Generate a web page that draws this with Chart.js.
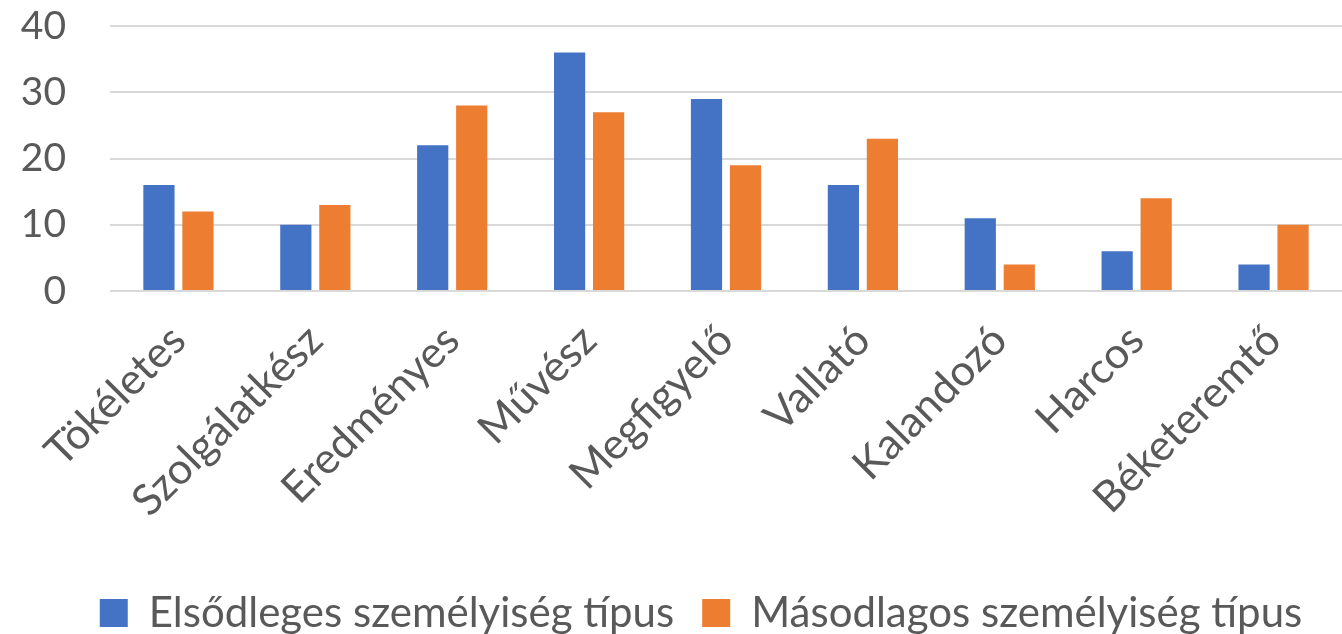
<!DOCTYPE html>
<html>
<head>
<meta charset="utf-8">
<script src="https://cdn.jsdelivr.net/npm/chart.js@4/dist/chart.umd.min.js"></script>
<style>
  html, body { margin: 0; padding: 0; background: #ffffff; }
  #wrap { width: 1342px; height: 634px; }
</style>
</head>
<body>
<div id="wrap"><canvas id="grafico"></canvas></div>
<script>
var kategoriak = ['Tökéletes', 'Szolgálatkész', 'Eredményes', 'Művész', 'Megfigyelő',
                  'Vallató', 'Kalandozó', 'Harcos', 'Béketeremtő'];
var elsodleges = [16, 10, 22, 36, 29, 16, 11, 6, 4];
var masodlagos = [12, 13, 28, 27, 19, 23, 4, 14, 10];
var sorozatNevek = ['Elsődleges személyiség típus', 'Másodlagos személyiség típus'];
var yTickek = [0, 10, 20, 30, 40];

var szurke = '#595959';
var racs = '#d9d9d9';

// a jelmagyarázat kicsit jobbra ül az eredetin
var jelmagyEltolas = {
    id: 'jelmagyEltolas',
    afterLayout: function (chart) {
        if (!chart.legend) return;
        chart.legend.left += 30;
        chart.legend.right += 30;
    }
};

new Chart(document.getElementById('grafico'), {
    type: 'bar',
    data: {
        labels: kategoriak,
        datasets: [
            {
                label: sorozatNevek[0],
                data: elsodleges,
                backgroundColor: '#4472c4',
                barPercentage: 0.8,
                categoryPercentage: 0.57
            },
            {
                label: sorozatNevek[1],
                data: masodlagos,
                backgroundColor: '#ed7d31',
                barPercentage: 0.8,
                categoryPercentage: 0.57
            }
        ]
    },
    plugins: [jelmagyEltolas],
    options: {
        responsive: true,
        maintainAspectRatio: false,
        animation: false,
        layout: { padding: { top: 26, right: 0, left: 0, bottom: -10 } },
        plugins: {
            tooltip: { enabled: false },
            legend: {
                display: true,
                position: 'bottom',
                labels: {
                    color: szurke,
                    font: { family: 'Lato', size: 42 },
                    boxWidth: 28,
                    boxHeight: 28,
                    padding: 28
                }
            }
        },
        scales: {
            x: {
                grid: { display: false },
                border: { display: false },
                afterFit: function (ax) {
                    ax.height = 273;
                    ax.paddingLeft = 0;
                    ax.paddingRight = 0;
                },
                ticks: {
                    color: szurke,
                    font: { family: 'Lato', size: 43 },
                    minRotation: 45,
                    maxRotation: 45,
                    padding: 16
                }
            },
            y: {
                min: 0,
                max: 40,
                afterBuildTicks: function (ax) {
                    ax.ticks = yTickek.map(function (v) { return { value: v }; });
                },
                afterFit: function (ax) {
                    ax.width = 110;
                    ax.paddingTop = 0;
                    ax.paddingBottom = 0;
                },
                grid: { color: racs, lineWidth: 2, drawTicks: false },
                border: { display: false },
                ticks: {
                    color: szurke,
                    font: { family: 'Lato', size: 39 },
                    padding: 44
                }
            }
        }
    }
});
</script>
</body>
</html>
